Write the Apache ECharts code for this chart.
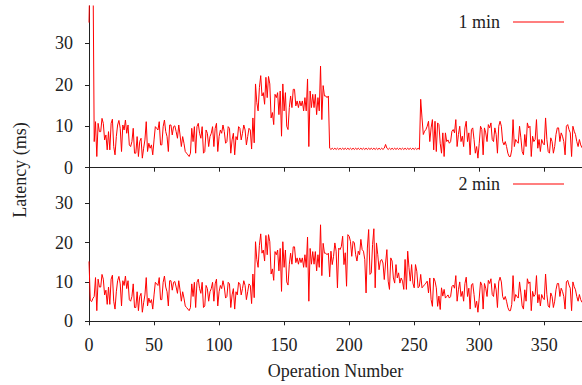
<!DOCTYPE html>
<html>
<head>
<meta charset="utf-8">
<script src="https://cdn.jsdelivr.net/npm/echarts@6/dist/echarts.min.js"></script>
<style>
  html, body { margin: 0; padding: 0; background: #fff; }
  #chart { width: 582px; height: 385px; }
</style>
</head>
<body>
<div id="chart"></div>
<script>
// first points (op 0-3) differ between the two runs
var head1 = [35, 52, 52, 52];
var head2 = [15.2, 5.3, 5.0, 5.8];

// op 4-127, same in both runs
var early = [
  6.3, 11.1, 2.7, 10.7, 8.7, 8.7, 11.9, 10.7, 6.7, 7.9,
  4.3, 8.7, 4.3, 10.7, 11.7, 5.1, 3.1, 7.5, 10.3, 11.4,
  9.5, 3.9, 10.3, 9.1, 11.5, 8.3, 10.3, 5.5, 5.1, 6.3,
  9.5, 3.5, 3.5, 7.5, 2.7, 6.3, 7.1, 2.3, 4.7, 6.7,
  11.1, 3.9, 5.9, 4.7, 5.5, 3.1, 6.7, 9.9, 9.5, 9.1,
  11.1, 5.5, 5.5, 9.9, 11.5, 8.7, 7.5, 3.9, 10.3, 10.3,
  7.9, 9.9, 10.1, 8.7, 7.1, 10.3, 7.9, 5.1, 7.5, 5.9,
  3.9, 3.5, 3.1, 2.7, 3.5, 9.5, 6.3, 9.9, 3.5, 9.9,
  10.7, 8.3, 7.1, 9.9, 3.5, 3.9, 9.1, 8.3, 5.1, 7.5,
  8.3, 9.9, 5.1, 9.5, 10.7, 3.9, 7.5, 9.1, 8.3, 10.3,
  8.7, 5.9, 6.3, 9.9, 9.5, 3.5, 6.7, 8.3, 3.1, 7.5,
  6.7, 9.9, 9.5, 6.7, 8.3, 10.3, 9.1, 5.5, 7.5, 9.5,
  9.1, 4.5, 12.0, 6.0
];

// op 128-184, same in both runs
var surge = [
  20.2, 15.7, 13.7, 19.3, 22.2, 17.3, 18.1, 15.3, 21.8, 16.9,
  22.0, 20.2, 12.0, 13.3, 10.4, 17.7, 16.9, 18.1, 12.8, 18.5,
  7.6, 20.2, 13.7, 18.1, 10.0, 9.2, 14.5, 17.3, 14.5, 18.9,
  18.9, 14.9, 16.1, 14.5, 16.1, 14.9, 16.1, 13.7, 16.9, 13.7,
  21.4, 5.1, 18.5, 14.5, 17.7, 14.5, 17.7, 12.8, 16.9, 13.7,
  24.5, 11.6, 19.8, 17.3, 17.3, 16.9, 17.3
];

// op 185-254, 1 min run
var flatTop = [
  4.7, 4.4, 4.7, 4.4, 4.7, 4.4, 4.7, 4.4, 4.7, 4.4,
  4.7, 4.4, 4.7, 4.4, 4.7, 4.4, 4.7, 4.4, 4.7, 4.4,
  4.7, 4.4, 4.7, 4.4, 4.7, 4.4, 4.7, 4.4, 4.7, 4.4,
  4.7, 4.4, 4.7, 4.4, 4.7, 4.4, 4.7, 4.4, 4.7, 4.4,
  4.7, 4.4, 4.7, 5.6, 4.7, 4.4, 4.7, 4.4, 4.7, 4.4,
  4.7, 4.4, 4.7, 4.4, 4.7, 4.4, 4.7, 4.4, 4.7, 4.4,
  4.7, 4.4, 4.7, 4.4, 4.7, 4.4, 4.7, 4.4, 4.7, 4.4
];
// op 255-274, 1 min run
var afterTop = [
  16.5, 12.0, 8.0, 8.8, 9.2, 10.0, 11.2, 6.3, 9.6, 11.6,
  4.3, 11.2, 3.9, 10.8, 10.4, 5.9, 3.5, 8.4, 2.7, 8.4
];

// op 185-274, 2 min run
var highBottom = [
  11.3, 17.8, 14.4, 16.5, 19.9, 17.8,
  8.5, 18.6, 18.2, 19.0, 21.6, 14.4, 17.4, 8.9, 22.0, 21.6,
  20.3, 16.5, 20.3, 19.9, 16.9, 15.3, 17.8, 16.9, 20.8, 18.2,
  17.8, 15.7, 7.2, 18.6, 23.3, 11.9, 12.3, 19.5, 23.5, 8.5,
  19.9, 16.9, 13.1, 15.3, 15.7, 14.8, 10.6, 14.8, 18.2, 10.2,
  8.1, 16.1, 15.3, 11.0, 9.7, 14.4, 11.0, 12.3, 9.7, 11.0,
  10.2, 8.1, 15.7, 8.1, 17.8, 13.6, 10.2, 14.4, 9.7, 8.5,
  14.4, 12.7, 8.5, 8.9, 11.9, 8.5, 8.9, 9.3, 9.7, 10.2,
  7.2, 11.0, 5.5, 3.8, 11.0, 10.2, 8.5, 3.8, 6.4, 3.0, 8.5, 6.4,
  8.1, 5.9
];

// op 275-379, same in both runs
var tail = [
  6.3, 6.7, 5.9, 6.3, 8.8, 9.2, 8.4, 11.6, 5.1, 8.0,
  10.0, 6.3, 7.6, 5.1, 9.6, 11.2, 6.3, 8.4, 3.1, 9.2,
  9.6, 6.8, 3.5, 5.1, 2.3, 5.9, 10.0, 9.2, 3.1, 9.6,
  8.4, 6.3, 10.4, 9.6, 10.8, 6.8, 6.3, 9.6, 8.0, 3.5,
  10.0, 11.2, 10.0, 6.3, 5.5, 6.3, 5.1, 3.5, 2.7, 2.7,
  4.3, 11.6, 5.1, 6.8, 6.3, 5.9, 10.0, 7.2, 3.9, 3.1,
  8.0, 5.1, 10.8, 9.6, 10.0, 2.7, 7.6, 6.3, 6.8, 11.6,
  4.7, 6.8, 3.9, 6.8, 5.9, 5.5, 12.0, 6.8, 3.9, 3.5,
  7.2, 6.3, 3.5, 5.1, 8.0, 9.6, 9.6, 6.3, 8.4, 7.6,
  6.3, 3.1, 10.0, 10.4, 9.2, 8.4, 2.7, 10.0, 8.8, 8.0,
  6.3, 5.1, 6.8, 5.5, 4.8
];

var yTicks = [0, 10, 20, 30];
var xTicks = [0, 50, 100, 150, 200, 250, 300, 350];

var run1 = head1.concat(early, surge, flatTop, afterTop, tail);
var run2 = head2.concat(early, surge, highBottom, tail);

function toPoints(arr) {
  return arr.map(function (v, i) { return [i, v]; });
}

var font = "'Liberation Serif', 'DejaVu Serif', serif";
var axisColor = '#222';
var txt = { fontFamily: font, fontSize: 18, color: '#222' };

function xAxis(idx, labels) {
  return {
    type: 'value', gridIndex: idx, min: 0, max: 379,
    axisLine: { lineStyle: { color: axisColor, width: 1 } },
    axisTick: { show: true, length: 4, customValues: xTicks, lineStyle: { color: axisColor } },
    axisLabel: { show: labels, customValues: xTicks, margin: 15, fontFamily: font, fontSize: 18, color: '#222' },
    splitLine: { show: false },
    name: labels ? 'Operation Number' : '',
    nameLocation: 'middle',
    nameGap: 41,
    nameTextStyle: txt
  };
}
function yAxis(idx) {
  return {
    type: 'value', gridIndex: idx, min: 0, max: 39,
    axisLine: { show: true, lineStyle: { color: axisColor, width: 1 } },
    axisTick: { show: true, length: 4, customValues: yTicks, lineStyle: { color: axisColor } },
    axisLabel: { customValues: yTicks, margin: 16, fontFamily: font, fontSize: 18, color: '#222' },
    splitLine: { show: false }
  };
}

var chart = echarts.init(document.getElementById('chart'), null, { renderer: 'svg' });
chart.setOption({
  animation: false,
  backgroundColor: '#fff',
  grid: [
    { left: 89, right: 0, top: 6, height: 161.7 },
    { left: 89, right: 0, top: 167.7, height: 153.6 }
  ],
  xAxis: [xAxis(0, false), xAxis(1, true)],
  yAxis: [yAxis(0), yAxis(1)],
  legend: [
    {
      data: ['1 min'], right: 13, top: 8, icon: 'rect', itemWidth: 51, itemHeight: 1,
      align: 'right', textStyle: { fontFamily: font, fontSize: 18, color: '#222', padding: [0, 8, 0, 0] }
    },
    {
      data: ['2 min'], right: 13, top: 170, icon: 'rect', itemWidth: 51, itemHeight: 1,
      align: 'right', textStyle: { fontFamily: font, fontSize: 18, color: '#222', padding: [0, 8, 0, 0] }
    }
  ],
  graphic: [{
    type: 'text', x: 20, y: 170, rotation: Math.PI / 2,
    style: { text: 'Latency (ms)', font: '18px ' + font, fill: '#222', align: 'center', verticalAlign: 'middle' }
  }],
  series: [
    {
      name: '1 min', type: 'line', xAxisIndex: 0, yAxisIndex: 0,
      data: toPoints(run1), showSymbol: false, symbol: 'none',
      lineStyle: { color: '#ff0000', width: 1 }, itemStyle: { color: '#ff0000' }
    },
    {
      name: '2 min', type: 'line', xAxisIndex: 1, yAxisIndex: 1,
      data: toPoints(run2), showSymbol: false, symbol: 'none',
      lineStyle: { color: '#ff0000', width: 1 }, itemStyle: { color: '#ff0000' }
    }
  ]
});
</script>
</body>
</html>
